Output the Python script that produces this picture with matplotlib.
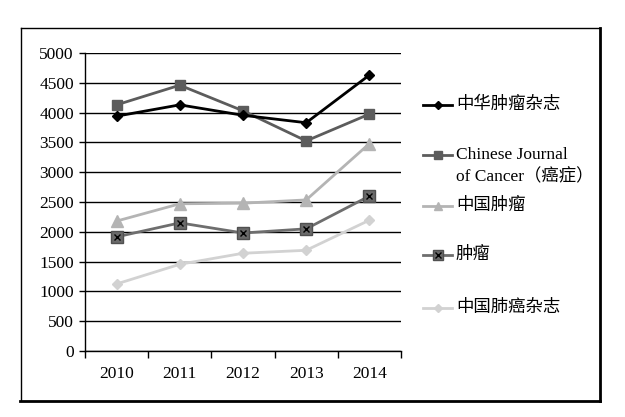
import matplotlib
matplotlib.use("Agg")
import matplotlib.pyplot as plt
from matplotlib.lines import Line2D

plt.rcParams['font.family'] = ['Liberation Serif', 'Noto Sans CJK SC', 'DejaVu Sans']

years = ["2010", "2011", "2012", "2013", "2014"]
s_zhonghua = [3940, 4130, 3955, 3830, 4630]
s_chinese_j = [4130, 4460, 4030, 3525, 3975]
s_zhongguo = [2180, 2470, 2480, 2535, 3480]
s_zhongliu = [1915, 2150, 1980, 2050, 2600]
s_feiai = [1125, 1455, 1640, 1690, 2195]
labels = ["中华肿瘤杂志", "Chinese Journal\nof Cancer（癌症）", "中国肿瘤", "肿瘤", "中国肺癌杂志"]
yticks = [0, 500, 1000, 1500, 2000, 2500, 3000, 3500, 4000, 4500, 5000]

W, H = 625, 417
fig = plt.figure(figsize=(W / 100, H / 100), dpi=100)

# outer frame
fig.add_artist(Line2D([20.5 / W, 20.5 / W], [1 - 27.5 / H, 1 - 400 / H], transform=fig.transFigure, color='black', lw=1.0))
fig.add_artist(Line2D([20.5 / W, 600 / W], [1 - 27.5 / H, 1 - 27.5 / H], transform=fig.transFigure, color='black', lw=1.0))
fig.add_artist(Line2D([599.5 / W, 599.5 / W], [1 - 27.5 / H, 1 - 401 / H], transform=fig.transFigure, color='black', lw=2.0))
fig.add_artist(Line2D([20 / W, 600 / W], [1 - 400.5 / H, 1 - 400.5 / H], transform=fig.transFigure, color='black', lw=2.0))

ax = fig.add_axes([85 / W, 1 - 351 / H, (401 - 85) / W, (351 - 53) / H])
x = list(range(len(years)))

styles = [
    dict(color='#000000', marker='D', ms=5.5, mfc='#000000', mec='#000000'),
    dict(color='#5c5c5c', marker='s', ms=7, mfc='#5c5c5c', mec='#5c5c5c'),
    dict(color='#b4b4b4', marker='^', ms=8, mfc='#b4b4b4', mec='#b4b4b4'),
    dict(color='#6e6e6e', marker='s', ms=9, mfc='#6a6a6a', mec='#505050'),
    dict(color='#d2d2d2', marker='D', ms=5.5, mfc='#d2d2d2', mec='#d2d2d2'),
]
series = [s_zhonghua, s_chinese_j, s_zhongguo, s_zhongliu, s_feiai]
zorders = [7, 6, 5, 4, 3]
for s, st, z in zip(series, styles, zorders):
    ax.plot(x, s, lw=2.0, zorder=z, **st)
ax.plot(x, s_zhongliu, ls='none', marker='x', ms=4.5, mew=1.0, color='black', zorder=4.5)

ax.set_xlim(-0.5, len(years) - 0.5)
ax.set_ylim(0, 5000)
ax.set_yticks(yticks)
ax.set_yticklabels([str(v) for v in yticks])
ax.set_xticks(x)
ax.set_xticklabels(years)
ax.set_xticks([i - 0.5 for i in range(len(years) + 1)], minor=True)
ax.tick_params(axis='x', which='major', length=0, pad=11, labelsize=12.5)
ax.tick_params(axis='x', which='minor', length=5, width=1, direction='out')
ax.tick_params(axis='y', length=4, width=1, direction='out', pad=4, labelsize=12.5)
ax.grid(axis='y', color='black', lw=1.0)
ax.set_axisbelow(True)
for sp in ['top', 'right']:
    ax.spines[sp].set_visible(False)
ax.spines['left'].set_linewidth(1.0)
ax.spines['bottom'].set_linewidth(1.0)

# legend, drawn manually
entry_y = [105, 155, 206, 255, 308]
for i, (lab, st, ey) in enumerate(zip(labels, styles, entry_y)):
    yf = 1 - ey / H
    fig.add_artist(Line2D([423 / W, 452 / W], [yf, yf], transform=fig.transFigure, lw=2.0,
                          color=st['color']))
    fig.add_artist(Line2D([437.5 / W], [yf], transform=fig.transFigure, lw=0,
                          marker=st['marker'], ms=st['ms'] * 0.8, mfc=st['mfc'], mec=st['mec']))
    if i == 3:
        fig.add_artist(Line2D([437.5 / W], [yf], transform=fig.transFigure, lw=0,
                              marker='x', ms=4, mew=1.0, color='black'))
    if '\n' in lab:
        fig.text(456 / W, 1 - 166 / H, lab, ha='left', va='center', fontsize=12.5,
                 linespacing=1.45)
    else:
        fig.text(456 / W, yf, lab, ha='left', va='center', fontsize=12.5)

fig.savefig("out.png", dpi=100)
